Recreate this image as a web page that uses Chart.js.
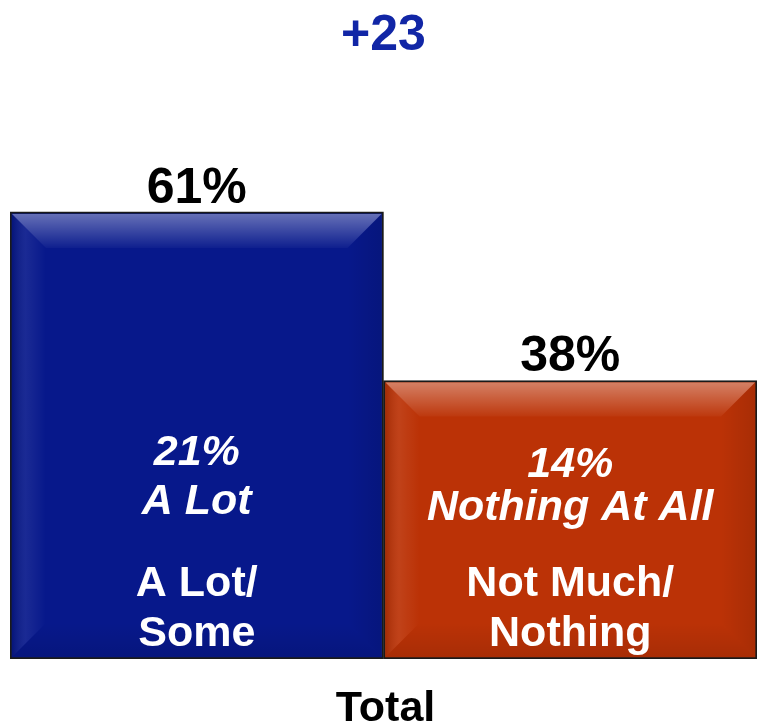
<!DOCTYPE html>
<html>
<head>
<meta charset="utf-8">
<script src="https://cdn.jsdelivr.net/npm/chart.js@4"></script>
<style>
  html, body { margin: 0; padding: 0; background: #fff; }
  #wrap { width: 757px; height: 725px; }
</style>
</head>
<body>
<div id="wrap"><canvas id="chart"></canvas></div>
<script>
const categories = ['Total'];
const seriesNames = ['A Lot/Some', 'Not Much/Nothing'];
const seriesValues = [61, 38];
const seriesColors = ['#07188b', '#bb3206'];
const innerPct = ['21%', '14%'];
const innerLabel = ['A Lot', 'Nothing At All'];
const barNames = [['A Lot/', 'Some'], ['Not Much/', 'Nothing']];
// vertical offsets of the inner text lines above the baseline
const innerOffsets = [[206, 157], [194, 151]];
const nameOffsets = [75, 25];

const FONT = '"Liberation Sans", Arial, Helvetica, sans-serif';
const gap = seriesValues[0] - seriesValues[1];

const barDecor = {
  id: 'barDecor',
  afterDatasetsDraw(chart) {
    const ctx = chart.ctx;
    const base = chart.scales.y.getPixelForValue(0);
    chart.data.datasets.forEach((ds, i) => {
      const bar = chart.getDatasetMeta(i).data[0];
      const { x, y, width } = bar.getProps(['x', 'y', 'width'], true);
      const L = x - width / 2 + 2, R = x + width / 2 - 2, T = y + 2, B = base - 2;
      const b = 34;
      ctx.save();
      // bevel: top
      let g = ctx.createLinearGradient(0, T, 0, T + b);
      g.addColorStop(0, 'rgba(255,255,255,0.38)');
      g.addColorStop(1, 'rgba(255,255,255,0.03)');
      ctx.fillStyle = g;
      ctx.beginPath();
      ctx.moveTo(L, T); ctx.lineTo(R, T); ctx.lineTo(R - b, T + b); ctx.lineTo(L + b, T + b);
      ctx.closePath(); ctx.fill();
      // left
      g = ctx.createLinearGradient(L, 0, L + b, 0);
      g.addColorStop(0, 'rgba(0,0,0,0.12)');
      g.addColorStop(0.4, 'rgba(255,255,255,0.08)');
      g.addColorStop(1, 'rgba(255,255,255,0)');
      ctx.fillStyle = g;
      ctx.beginPath();
      ctx.moveTo(L, T); ctx.lineTo(L + b, T + b); ctx.lineTo(L + b, B - b); ctx.lineTo(L, B);
      ctx.closePath(); ctx.fill();
      // right
      g = ctx.createLinearGradient(R, 0, R - b, 0);
      g.addColorStop(0, 'rgba(0,0,0,0.1)');
      g.addColorStop(1, 'rgba(0,0,0,0)');
      ctx.fillStyle = g;
      ctx.beginPath();
      ctx.moveTo(R, T); ctx.lineTo(R - b, T + b); ctx.lineTo(R - b, B - b); ctx.lineTo(R, B);
      ctx.closePath(); ctx.fill();
      // bottom
      g = ctx.createLinearGradient(0, B, 0, B - b);
      g.addColorStop(0, 'rgba(0,0,0,0.1)');
      g.addColorStop(1, 'rgba(0,0,0,0)');
      ctx.fillStyle = g;
      ctx.beginPath();
      ctx.moveTo(L, B); ctx.lineTo(R, B); ctx.lineTo(R - b, B - b); ctx.lineTo(L + b, B - b);
      ctx.closePath(); ctx.fill();

      ctx.textAlign = 'center';
      ctx.textBaseline = 'middle';
      // value above bar
      ctx.fillStyle = '#000';
      ctx.font = 'bold 50px ' + FONT;
      ctx.fillText(ds.data[0] + '%', x, y - 23);
      // inner italic labels
      ctx.fillStyle = '#fff';
      ctx.font = 'italic bold 43px ' + FONT;
      ctx.fillText(innerPct[i], x, base - innerOffsets[i][0]);
      ctx.fillText(innerLabel[i], x, base - innerOffsets[i][1]);
      // series name
      ctx.font = 'bold 43px ' + FONT;
      ctx.fillText(barNames[i][0], x, base - nameOffsets[0]);
      ctx.fillText(barNames[i][1], x, base - nameOffsets[1]);
      ctx.restore();
    });
    // category label under the bars
    const xs = chart.scales.x;
    ctx.save();
    ctx.fillStyle = '#000';
    ctx.font = 'bold 43px ' + FONT;
    ctx.textAlign = 'center';
    ctx.textBaseline = 'middle';
    categories.forEach((c, k) => ctx.fillText(c, xs.getPixelForValue(k) + 2, base + 50));
    ctx.restore();
  }
};

new Chart(document.getElementById('chart'), {
  type: 'bar',
  data: {
    labels: categories,
    datasets: seriesValues.map((v, i) => ({
      label: seriesNames[i],
      data: [v],
      backgroundColor: seriesColors[i],
      borderColor: '#1a1a1a',
      borderWidth: 2,
      borderSkipped: false,
      categoryPercentage: 1,
      barPercentage: 1
    }))
  },
  options: {
    responsive: true,
    maintainAspectRatio: false,
    animation: false,
    layout: { padding: { left: 10, right: 0, top: 0, bottom: 66 } },
    plugins: {
      legend: { display: false },
      tooltip: { enabled: false },
      title: {
        display: true,
        text: '+' + gap,
        color: '#1126a6',
        font: { family: FONT, size: 50, weight: 'bold' },
        padding: { top: 6, bottom: 14 }
      }
    },
    scales: {
      y: { display: false, min: 0, max: 79 },
      x: { display: false }
    }
  },
  plugins: [barDecor]
});
</script>
</body>
</html>
